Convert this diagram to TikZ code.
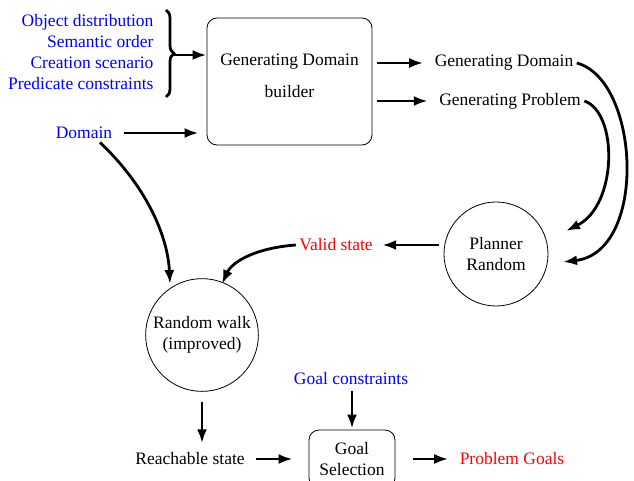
\documentclass[tikz,border=0pt]{standalone}
\usepackage{fontspec}
\setmainfont{Liberation Serif}
\usetikzlibrary{arrows.meta,decorations.pathreplacing}
\begin{document}
\begin{tikzpicture}[x=1pt,y=-1pt,
  font=\fontsize{17.5}{21}\selectfont,
  arr/.style={-{Latex[length=14pt,width=10pt]}, line width=2.8pt},
  bx/.style={draw, rounded corners=10pt, line width=0.8pt, align=center},
  rnd/.style={draw, circle, line width=0.8pt, align=center},
  inp/.style={text=blue},
  outp/.style={text=red}]
\useasboundingbox (0,0) rectangle (634,481);
\node [inp, align=right, anchor=east] (params) at (157,52) {Object distribution\\Semantic order\\Creation scenario\\Predicate constraints};
\coordinate (brtop) at (166,10);
\coordinate (brbot) at (166,97);
\coordinate (brtip) at (173,55);
\node [bx, minimum width=165pt, minimum height=127pt] (gdb) at (289.5,81.5) {};
\node (gdbtxt) at (289.5,62) {Generating Domain};
\node (gdbtxt2) at (289.5,92) {builder};
\node [inp] (dom) at (84,133) {Domain};
\node (gdom) at (504,63) {Generating Domain};
\node (gprob) at (510,101) {Generating Problem};
\node [rnd, minimum size=104pt] (planner) at (496,254) {Planner\\Random};
\node [outp] (valid) at (336,245) {Valid state};
\node [rnd, minimum size=110pt] (walk) at (202,335) {Random walk\\(improved)};
\node (reach) at (190,459) {Reachable state};
\node [inp] (gcons) at (351,379) {Goal constraints};
\node [bx, minimum width=86pt, minimum height=58pt] (gsel) at (352,459) {Goal\\Selection};
\node [outp] (pgoals) at (512,459) {Problem Goals};
\draw [decorate, decoration={brace, amplitude=8pt}, line width=2.8pt] (brtop) -- (brbot);
\draw [arr] (brtip) -- (brtip -| gdb.west);
\draw [arr, shorten <=8pt, shorten >=8pt] (dom.east) -- (dom.east -| gdb.west);
\draw [arr, shorten <=5pt, shorten >=8pt] (gdb.east |- gdom) -- (gdom.west);
\draw [arr, shorten <=5pt, shorten >=8pt] (gdb.east |- gprob) -- (gprob.west);
\draw [arr] (gdom.east) .. controls (640,80) and (648,252) .. (563,262);
\draw [arr] (gprob.east) .. controls (618,112) and (618,205) .. (566,231);
\draw [arr, shorten <=5pt, shorten >=6pt] (planner.west |- valid) -- (valid.east);
\draw [arr] (valid.west) .. controls (255,248) and (232,262) .. (222,284);
\draw [arr] (dom.south) ++(16,0) .. controls (150,190) and (168,240) .. (170,284);
\draw [arr, shorten <=10pt, shorten >=6pt] (walk.south) -- (reach.north -| walk.south);
\draw [arr, shorten <=8pt, shorten >=16pt] (reach.east) -- (gsel.west);
\draw [arr, shorten <=2pt, shorten >=1pt] (gcons.south -| gsel.north) -- (gsel.north);
\draw [arr, shorten <=18pt, shorten >=8pt] (gsel.east) -- (pgoals.west);
\end{tikzpicture}
\end{document}
